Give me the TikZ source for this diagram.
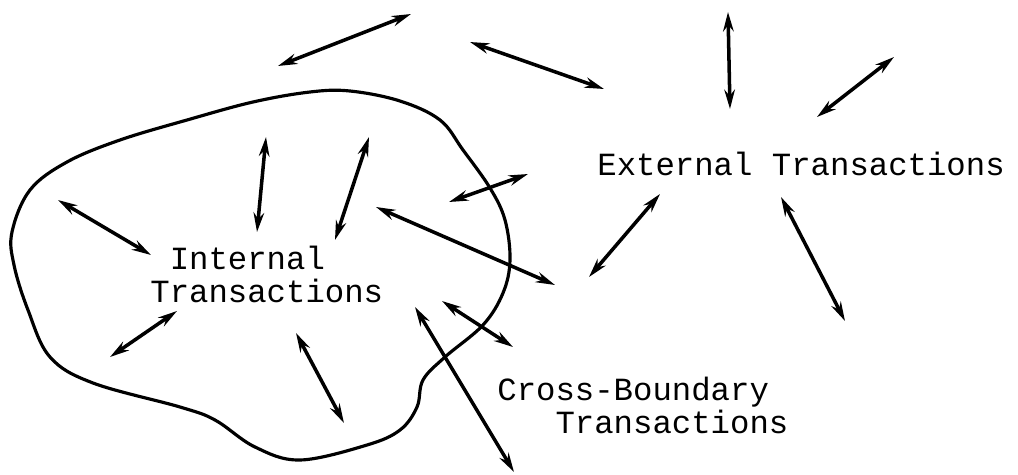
\documentclass[tikz,border=0pt]{standalone}
\usepackage{fontspec}
\setmonofont{Liberation Mono}
\usetikzlibrary{arrows.meta}

\begin{document}
\begin{tikzpicture}[x=0.02cm, y=-0.02cm, >={Stealth[length=11pt, width=6pt]},
    font=\ttfamily\fontsize{18.4}{18.5}\selectfont,
    flow/.style={<->, line width=2pt},
    label/.style={inner sep=0pt, anchor=base west, align=left}]

    % 1. Ramka obrazka (proporcje jak w oryginale)
    \useasboundingbox (0,0) rectangle (1018,474);

    % 2. Granica systemu
    \draw[line width=1.8pt] plot[smooth cycle, tension=0.6] coordinates {
        (12,232) (30,190) (67,162) (120,140) (187,120) (253,102)
        (310,92) (350,91) (400,101) (440,120) (463,150) (490,188)
        (505,220) (510,260) (503,293) (483,325) (445,357) (423,380)
        (417,407) (400,430) (367,445) (300,460) (255,447) (215,420)
        (180,407) (93,383) (50,357) (28,310) (14,265)
    };

    % 3. Podpisy (kotwica na linii bazowej ostatniego wiersza)
    \node[label] (internal) at (150,302) {\hphantom{T}Internal\\Transactions};
    \node[label] (external) at (597,175) {External Transactions};
    \node[label] (cross) at (497,433) {Cross-Boundary\\\hphantom{Cro}Transactions};

    % 4. Transakcje zewnetrzne
    \draw[flow] (278,66) -- (411,14);
    \draw[flow] (470,42) -- (604,89);
    \draw[flow] (728,12) -- (730,109);
    \draw[flow] (817,117) -- (894,57);
    \draw[flow] (589,277) -- (660,194);
    \draw[flow] (781,197) -- (845,321);

    % 5. Transakcje wewnetrzne
    \draw[flow] (58,200) -- (151,255);
    \draw[flow] (266,137) -- (257,232);
    \draw[flow] (369,137) -- (335,240);
    \draw[flow] (110,357) -- (177,311);
    \draw[flow] (296,333) -- (344,423);

    % 6. Transakcje przez granice
    \draw[flow] (376,207) -- (555,285);
    \draw[flow] (449,202) -- (528,174);
    \draw[flow] (442,301) -- (513,347);
    \draw[flow] (415,307) -- (514,472);

\end{tikzpicture}
\end{document}
